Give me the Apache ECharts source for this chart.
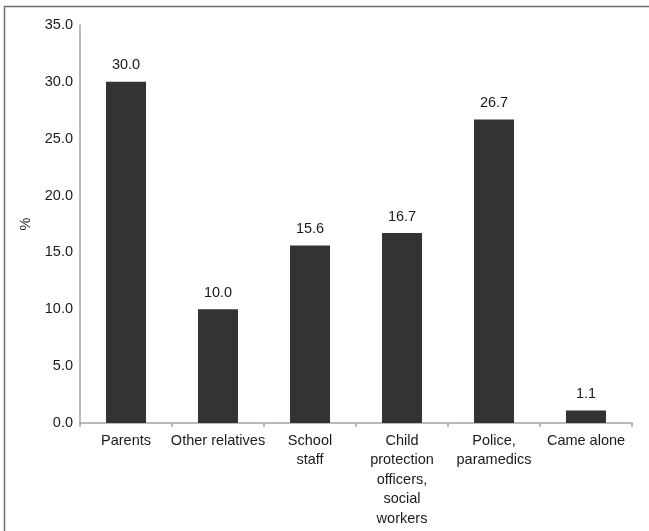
<!DOCTYPE html>
<html>
<head>
<meta charset="utf-8">
<script src="https://cdn.jsdelivr.net/npm/echarts@6/dist/echarts.min.js"></script>
<style>
  html, body { margin: 0; padding: 0; background: #fff; }
  #chart { width: 649px; height: 531px; }
</style>
</head>
<body>
<div id="chart"></div>
<script>
// Who brought the child in (share of cases, %)
const categories = [
  'Parents',
  'Other relatives',
  'School\nstaff',
  'Child\nprotection\nofficers,\nsocial\nworkers',
  'Police,\nparamedics',
  'Came alone'
];
const shares = [30.0, 10.0, 15.6, 16.7, 26.7, 1.1];
const yTicks = { min: 0, max: 35, step: 5 };

const chart = echarts.init(document.getElementById('chart'), null, { renderer: 'canvas' });
const font = 'Liberation Sans, Arial, sans-serif';
const axisGray = '#a3a3a3';
const ink = '#1a1a1a';
const fs = 14.5;

chart.setOption({
  animation: false,
  backgroundColor: '#fff',
  graphic: [{
    type: 'rect',
    shape: { x: 4.5, y: 6.5, width: 800, height: 700 },
    style: { fill: 'none', stroke: '#6e6e6e', lineWidth: 1.5 },
    silent: true
  }],
  grid: { left: 80, right: 17, top: 25, bottom: 108, containLabel: false },
  xAxis: {
    type: 'category',
    data: categories,
    axisLine: { lineStyle: { color: axisGray, width: 1.5 } },
    axisTick: { show: true, length: 4, lineStyle: { color: axisGray, width: 1.5 } },
    axisLabel: {
      interval: 0, color: ink, fontFamily: font, fontSize: fs,
      lineHeight: 19.5, margin: 8
    }
  },
  yAxis: {
    type: 'value',
    min: yTicks.min, max: yTicks.max, interval: yTicks.step,
    name: '%',
    nameLocation: 'middle',
    nameGap: 47,
    nameRotate: 90,
    nameTextStyle: { color: ink, fontFamily: font, fontSize: fs },
    axisLine: { show: true, lineStyle: { color: axisGray, width: 1.5 } },
    axisTick: { show: false },
    splitLine: { show: false },
    axisLabel: {
      color: ink, fontFamily: font, fontSize: fs, margin: 7,
      formatter: v => v.toFixed(1)
    }
  },
  series: [{
    type: 'bar',
    data: shares,
    barWidth: 40,
    itemStyle: { color: '#333333' },
    label: {
      show: true, position: 'top', distance: 9,
      color: ink, fontFamily: font, fontSize: fs,
      formatter: p => p.value.toFixed(1)
    }
  }]
});
</script>
</body>
</html>
